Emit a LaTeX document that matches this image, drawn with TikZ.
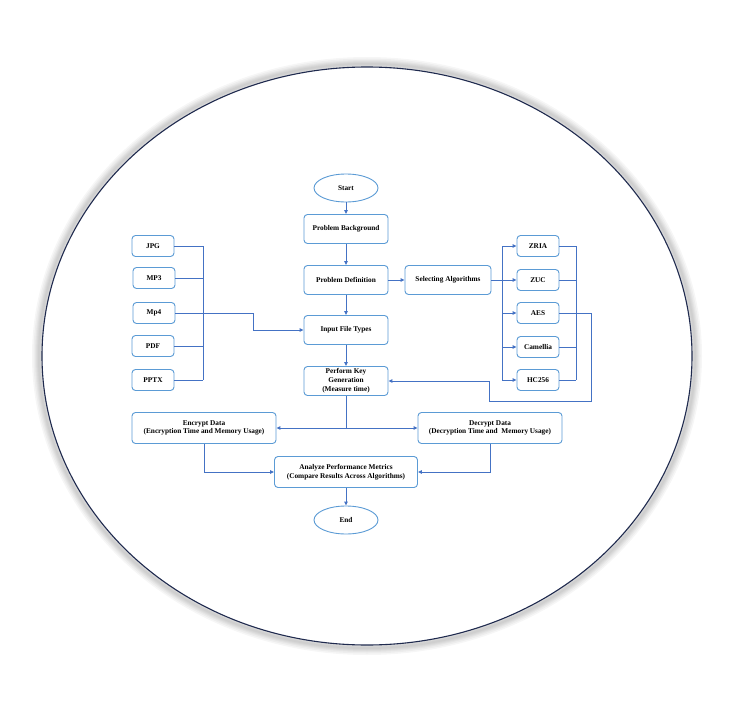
\documentclass[tikz,border=0pt]{standalone}
\usepackage{fontspec}
\setmainfont{Liberation Serif}
\usetikzlibrary{arrows.meta,shapes.geometric}
\definecolor{lineblue}{HTML}{4472C4}
\definecolor{boxblue}{HTML}{5B9BD5}
\definecolor{navy}{HTML}{1F2A4E}
\begin{document}
\begin{tikzpicture}[x=1pt,y=-1pt,
  box/.style={draw=boxblue,line width=0.9pt,rounded corners=3.5pt,fill=white,
    minimum width=84pt,minimum height=29pt,inner sep=1pt,align=center,
    font=\fontsize{7.3}{8.8}\selectfont\bfseries},
  small/.style={box,minimum width=42pt,minimum height=21pt},
  wide/.style={box,minimum width=144pt,minimum height=31pt},
  term/.style={draw=boxblue,line width=0.9pt,ellipse,fill=white,minimum width=64pt,
    minimum height=28pt,inner sep=0pt,font=\fontsize{7.3}{8.8}\selectfont\bfseries},
  conn/.style={draw=lineblue,line width=1pt},
  arr/.style={conn,-{Triangle[length=4pt,width=3.5pt]}},
  glow/.style={line width=#1,draw=gray,draw opacity=0.07}]
\useasboundingbox (0,0) rectangle (739,717);
\fill[white] (0,0) rectangle (739,717);
% outer glow and ellipse
\foreach \w in {14,11,8,6,4,2}
  \draw[glow=\w pt] (367,356) ellipse [x radius=328,y radius=292];
\draw[navy,line width=1.1pt,fill=white] (367,356) ellipse [x radius=325,y radius=289];
% nodes
\node[term] (start) at (346,188) {Start};
\node[box] (bg) at (346,229) {Problem Background};
\node[box] (def) at (346,280) {Problem Definition};
\node[box,minimum width=86pt] (sel) at (448,280) {Selecting Algorithms};
\node[box] (inp) at (346,330) {Input File Types};
\node[box] (key) at (346,381) {Perform Key\\Generation\\(Measure time)};
\node[wide] (enc) at (204,428) {Encrypt Data\\(Encryption Time and Memory Usage)};
\node[wide] (dec) at (490,428) {Decrypt Data\\(Decryption Time and\ \ Memory Usage)};
\node[wide,minimum width=143pt] (ana) at (346,472) {Analyze Performance Metrics\\(Compare Results Across Algorithms)};
\node[term] (end) at (346,520) {End};
\node[small] (jpg) at (153,246) {JPG};
\node[small] (mp3) at (154,278) {MP3};
\node[small] (mp4) at (154,313) {Mp4};
\node[small] (pdf) at (153,346) {PDF};
\node[small] (pptx) at (153,380) {PPTX};
\node[small] (zria) at (538,246) {ZRIA};
\node[small] (zuc) at (538,280) {ZUC};
\node[small] (aes) at (538,313) {AES};
\node[small] (cam) at (538,347) {Camellia};
\node[small] (hc) at (538,380) {HC256};
% coordinates
\coordinate (lbt) at (203,246);
\coordinate (lbb) at (203,380);
\coordinate (mpj) at (253,313);
\coordinate (rbt) at (502,246);
\coordinate (rbb) at (502,380);
\coordinate (qbt) at (576,246);
\coordinate (qbb) at (576,380);
\coordinate (aesc) at (591,401);
\coordinate (aesd) at (489,401);
\coordinate (ks) at (346,428);
% main flow
\draw[arr] (start) -- (bg);
\draw[arr] (bg) -- (def);
\draw[arr] (def) -- (sel);
\draw[arr] (def) -- (inp);
\draw[arr] (inp) -- (key);
\draw[conn] (key) -- (ks);
\draw[arr] (ks) -- (enc.east);
\draw[arr] (ks) -- (dec.west);
\draw[arr] (enc.south) |- (ana.west);
\draw[arr] (dec.south) |- (ana.east);
\draw[arr] (ana) -- (end);
% left bus
\draw[conn] (lbt) -- (lbb);
\draw[conn] (jpg.east) -- (jpg.east -| lbt);
\draw[conn] (mp3.east) -- (mp3.east -| lbt);
\draw[conn] (pdf.east) -- (pdf.east -| lbt);
\draw[conn] (pptx.east) -- (pptx.east -| lbt);
\draw[arr] (mp4.east) -- (mpj) |- (inp.west);
% right buses
\draw[conn] (sel.east) -- (sel.east -| rbt);
\draw[conn] (rbt) -- (rbb);
\draw[arr] (zria.west -| rbt) -- (zria.west);
\draw[arr] (zuc.west -| rbt) -- (zuc.west);
\draw[arr] (aes.west -| rbt) -- (aes.west);
\draw[arr] (cam.west -| rbt) -- (cam.west);
\draw[arr] (hc.west -| rbt) -- (hc.west);
\draw[conn] (qbt) -- (qbb);
\draw[conn] (zria.east) -- (zria.east -| qbt);
\draw[conn] (zuc.east) -- (zuc.east -| qbt);
\draw[conn] (cam.east) -- (cam.east -| qbt);
\draw[conn] (hc.east) -- (hc.east -| qbt);
\draw[arr] (aes.east) -| (aesc) -- (aesd) |- (key.east);
\end{tikzpicture}
\end{document}
